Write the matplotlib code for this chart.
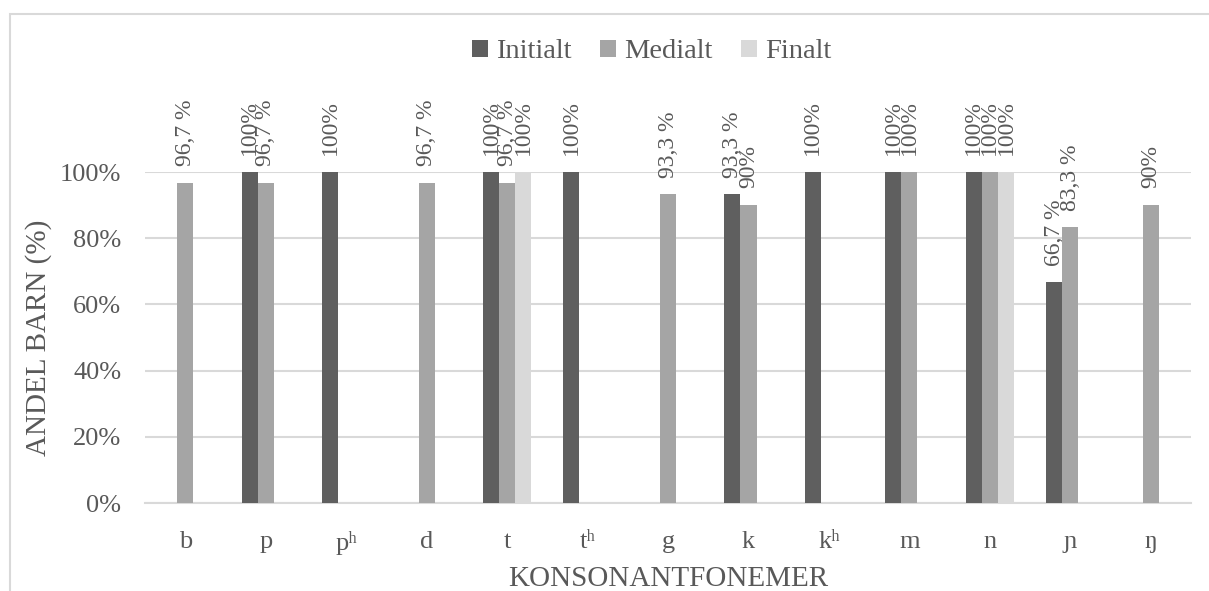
import numpy as np
import matplotlib
matplotlib.use("Agg")
import matplotlib.pyplot as plt
from matplotlib.patches import Rectangle

plt.rcParams['font.family'] = ['Liberation Serif', 'DejaVu Serif']

phonemes = ['b', 'p', 'pʰ', 'd', 't', 'tʰ', 'g', 'k', 'kʰ', 'm', 'n', 'ɲ', 'ŋ']
initialt = [0, 100, 100, 0, 100, 100, 0, 93.3, 100, 100, 100, 66.7, 0]
medialt = [96.7, 96.7, 0, 96.7, 96.7, 0, 93.3, 90, 0, 100, 100, 83.3, 90]
finalt = [0, 0, 0, 0, 100, 0, 0, 0, 0, 0, 100, 0, 0]

series = [('Initialt', initialt, '#5f5f5f'),
          ('Medialt', medialt, '#a5a5a5'),
          ('Finalt', finalt, '#d9d9d9')]

txt = '#595959'
grid = '#d9d9d9'

def fmt(v):
    if float(v).is_integer():
        return '%d%%' % v
    return ('%.1f' % v).replace('.', ',') + ' %'

fig = plt.figure(figsize=(12.09, 5.91), dpi=100)
# chart border (runs off the right and bottom edges)
fig.patches.append(Rectangle((10/1209, -0.1), 1.2, 1 - 14/591 + 0.1,
                             transform=fig.transFigure, fill=False,
                             edgecolor=grid, linewidth=1.5))

ax = fig.add_axes([145/1209, 88/591, (1191-145)/1209, (503-172)/591])
x = np.arange(len(phonemes))
bw = 0.2
for i, (name, vals, col) in enumerate(series):
    vals = np.array(vals, dtype=float) / 100
    pos = x + (i - 1) * bw
    ax.bar(pos, vals, bw, color=col, label=name, zorder=3)
    for px, v in zip(pos, vals):
        if v > 0:
            ax.annotate(fmt(round(v * 100, 1)), (px, v), xytext=(0, 12),
                        textcoords='offset points', rotation=90,
                        ha='center', va='bottom', fontsize=17, color=txt,
                        annotation_clip=False)

ax.set_xlim(-0.5, len(phonemes) - 0.5)
ax.set_ylim(0, 1)
ticks = np.arange(0, 1.01, 0.2)
ax.set_yticks(ticks)
ax.set_yticklabels(['%d%%' % round(t * 100) for t in ticks])
ax.set_xticks(x)
ax.set_xticklabels(phonemes)
ax.yaxis.grid(True, color=grid, linewidth=1.5, zorder=0)
ax.set_axisbelow(True)
for s in ['top', 'right', 'left']:
    ax.spines[s].set_visible(False)
ax.spines['bottom'].set_color(grid)
ax.spines['bottom'].set_linewidth(1.5)
ax.tick_params(length=0, labelsize=19, labelcolor=txt)
ax.tick_params(axis='x', pad=20)
ax.tick_params(axis='y', pad=17)
ax.set_ylabel('ANDEL BARN (%)', fontsize=21, color=txt, labelpad=6)
ax.set_xlabel('KONSONANTFONEMER', fontsize=21, color=txt, labelpad=8)

fig.legend(loc='center', bbox_to_anchor=(652/1209, 1 - 52/591), ncol=3,
           frameon=False, fontsize=20.5, labelcolor=txt, handlelength=0.55,
           handleheight=0.55, handletextpad=0.3, columnspacing=1.0)

fig.savefig('out.png', dpi=100)
